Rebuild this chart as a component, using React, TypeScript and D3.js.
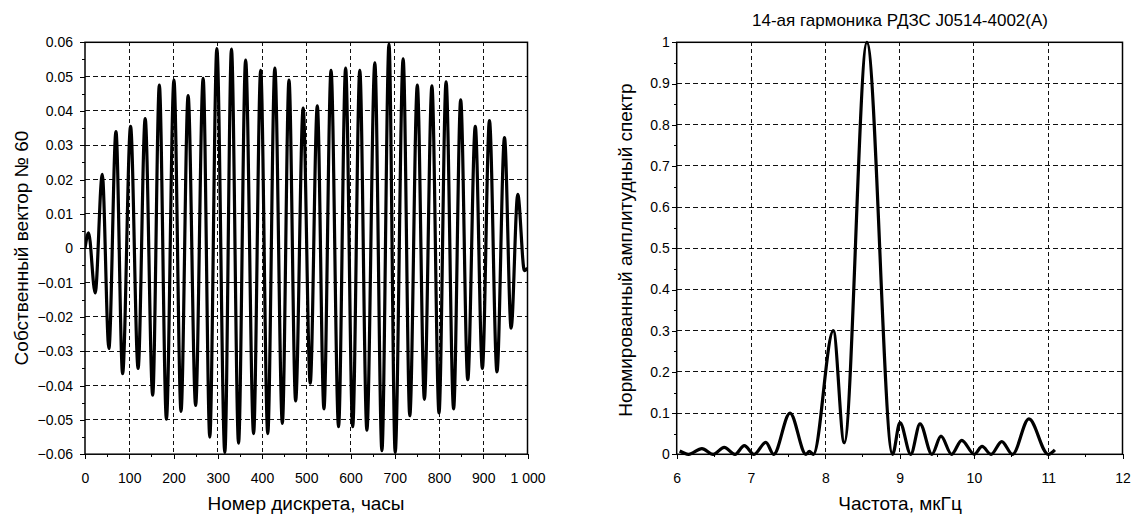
import React, { useRef, useEffect } from "react";
import * as d3 from "d3";

const width = 1134;
const height = 515;
const font = "'Liberation Sans', Arial, Helvetica, sans-serif";

// left panel: extrema of eigenvector No 60 (sample number, value)
const sampleNo = [
  0, 8, 23, 39, 54, 70, 85, 103, 120, 136, 153, 168, 184, 201, 217, 233, 250, 267, 282, 298,
  316, 331, 347, 363, 381, 397, 413, 429, 446, 461, 476, 493, 509, 525, 540, 556, 573, 589,
  605, 621, 637, 655, 671, 687, 701, 719, 734, 751, 767, 784, 800, 816, 833, 849, 865, 882,
  898, 914, 931, 948, 963, 978, 993, 1000,
];
const vectorValue = [
  0.0, 0.0045, -0.013, 0.0215, -0.0292, 0.034, -0.0365, 0.0355, -0.035, 0.0378, -0.0428,
  0.0475, -0.0498, 0.049, -0.0475, 0.0445, -0.0458, 0.0495, -0.055, 0.0582, -0.0595, 0.058,
  -0.0568, 0.0548, -0.054, 0.0518, -0.054, 0.0525, -0.051, 0.049, -0.0445, 0.0408, -0.0393,
  0.0415, -0.0468, 0.0518, -0.052, 0.0525, -0.052, 0.0518, -0.053, 0.054, -0.059, 0.0595,
  -0.0595, 0.0552, -0.0488, 0.0475, -0.044, 0.0473, -0.048, 0.0485, -0.0468, 0.0432, -0.0383,
  0.0355, -0.035, 0.0372, -0.036, 0.0322, -0.0233, 0.0157, -0.0065, -0.0058,
];

// right panel: normalised amplitude spectrum (frequency, µHz)
const frequency = [
  6.04, 6.16, 6.34, 6.49, 6.64, 6.785, 6.91, 7.04, 7.2, 7.305, 7.525, 7.74, 7.785, 7.84, 8.108,
  8.255, 8.56, 8.905, 9.005, 9.15, 9.275, 9.435, 9.557, 9.7, 9.836, 10.005, 10.11, 10.23,
  10.375, 10.52, 10.74, 11.0, 11.09,
];
const amplitude = [
  0.008, 0.0, 0.014, 0.0, 0.017, 0.0, 0.021, 0.0, 0.029, 0.0, 0.1, 0.0, 0.007, 0.0, 0.3, 0.028,
  1.0, 0.0, 0.077, 0.0, 0.074, 0.0, 0.044, 0.0, 0.034, 0.0, 0.019, 0.0, 0.031, 0.0, 0.086, 0.0,
  0.011,
];

// ticks
const leftXMajor = [0, 100, 200, 300, 400, 500, 600, 700, 800, 900, 1000];
const leftXMinor = [50, 150, 250, 350, 450, 550, 650, 750, 850, 950];
const leftYMajor = [-0.06, -0.05, -0.04, -0.03, -0.02, -0.01, 0, 0.01, 0.02, 0.03, 0.04, 0.05, 0.06];
const leftYMinor = [-0.055, -0.045, -0.035, -0.025, -0.015, -0.005, 0.005, 0.015, 0.025, 0.035, 0.045, 0.055];
const rightXMajor = [6, 7, 8, 9, 10, 11, 12];
const rightXMinor = [6.5, 7.5, 8.5, 9.5, 10.5, 11.5];
const rightYMajor = [0, 0.1, 0.2, 0.3, 0.4, 0.5, 0.6, 0.7, 0.8, 0.9, 1];
const rightYMinor = [0.05, 0.15, 0.25, 0.35, 0.45, 0.55, 0.65, 0.75, 0.85, 0.95];

type PanelProps = {
  id: string;
  left: number;
  right: number;
  top: number;
  bottom: number;
  xDomain: [number, number];
  yDomain: [number, number];
  xMajor: number[];
  xMinor: number[];
  yMajor: number[];
  yMinor: number[];
  xFmt: (d: number) => string;
  yFmt: (d: number) => string;
  yPad: number;
  xs: number[];
  ys: number[];
};

const Panel = (p: PanelProps) => {
  const ref = useRef<SVGGElement>(null);

  useEffect(() => {
    const g = d3.select(ref.current);
    g.selectAll("*").remove();

    const x = d3.scaleLinear().domain(p.xDomain).range([p.left, p.right]);
    const y = d3.scaleLinear().domain(p.yDomain).range([p.bottom, p.top]);

    // dashed grid
    const grid = g.append("g").attr("shape-rendering", "crispEdges");
    grid
      .selectAll(".gx")
      .data(p.xMajor.filter((d) => d > p.xDomain[0] && d < p.xDomain[1]))
      .join("line")
      .attr("x1", (d) => x(d))
      .attr("x2", (d) => x(d))
      .attr("y1", p.top)
      .attr("y2", p.bottom)
      .attr("stroke", "#111")
      .attr("stroke-dasharray", "4,3");
    grid
      .selectAll(".gy")
      .data(p.yMajor.filter((d) => d > p.yDomain[0] + 1e-9 && d < p.yDomain[1] - 1e-9))
      .join("line")
      .attr("x1", p.left)
      .attr("x2", p.right)
      .attr("y1", (d) => y(d))
      .attr("y2", (d) => y(d))
      .attr("stroke", "#111")
      .attr("stroke-dasharray", "5,3");

    // the curve
    g.append("clipPath")
      .attr("id", p.id)
      .append("rect")
      .attr("x", p.left)
      .attr("y", p.top - 2)
      .attr("width", p.right - p.left)
      .attr("height", p.bottom - p.top + 4);
    const line = d3
      .line<number>()
      .x((d, i) => x(p.xs[i]))
      .y((d) => y(d))
      .curve(d3.curveMonotoneX);
    g.append("path")
      .attr("clip-path", `url(#${p.id})`)
      .attr("d", line(p.ys))
      .attr("fill", "none")
      .attr("stroke", "#000")
      .attr("stroke-width", 3.2)
      .attr("stroke-linejoin", "round");

    // axes
    const style = (sel: any) => {
      sel.select(".domain").remove();
      sel.selectAll("line").attr("stroke", "#000").attr("shape-rendering", "crispEdges");
      sel.selectAll("text").attr("font-family", font).attr("font-size", 14).attr("fill", "#000");
    };
    g.append("g")
      .attr("transform", `translate(0,${p.bottom})`)
      .call(d3.axisBottom(x).tickValues(p.xMajor).tickSize(5).tickPadding(14).tickFormat((d: any) => p.xFmt(d)))
      .call(style);
    g.append("g")
      .attr("transform", `translate(0,${p.bottom})`)
      .call(d3.axisBottom(x).tickValues(p.xMinor).tickSize(3).tickFormat(() => ""))
      .call(style);
    g.append("g")
      .attr("transform", `translate(${p.left},0)`)
      .call(d3.axisLeft(y).tickValues(p.yMajor).tickSize(5).tickPadding(p.yPad).tickFormat((d: any) => p.yFmt(d)))
      .call(style);
    g.append("g")
      .attr("transform", `translate(${p.left},0)`)
      .call(d3.axisLeft(y).tickValues(p.yMinor).tickSize(3).tickFormat(() => ""))
      .call(style);

    // frame
    g.append("rect")
      .attr("x", p.left)
      .attr("y", p.top)
      .attr("width", p.right - p.left)
      .attr("height", p.bottom - p.top)
      .attr("fill", "none")
      .attr("stroke", "#000")
      .attr("stroke-width", 1.5);
  }, [p]);

  return <g ref={ref} />;
};

const leftFmtX = (d: number) => (d === 1000 ? "1 000" : String(d));
const leftFmtY = (d: number) => (Math.abs(d) < 1e-9 ? "0" : d3.format(".2f")(d));
const rightFmtX = (d: number) => String(d);
const rightFmtY = (d: number) => String(+d.toFixed(1));

export default function App() {
  return (
    <svg
      width={width}
      height={height}
      style={{ position: "absolute", left: 0, top: 0, background: "#fff" }}
    >
      <Panel
        id="clipL"
        left={85}
        right={527.5}
        top={42.3}
        bottom={454.2}
        xDomain={[0, 1000]}
        yDomain={[-0.06, 0.06]}
        xMajor={leftXMajor}
        xMinor={leftXMinor}
        yMajor={leftYMajor}
        yMinor={leftYMinor}
        xFmt={leftFmtX}
        yFmt={leftFmtY}
        yPad={7}
        xs={sampleNo}
        ys={vectorValue}
      />
      <Panel
        id="clipR"
        left={676.7}
        right={1122.5}
        top={42.3}
        bottom={454.3}
        xDomain={[6, 12]}
        yDomain={[0, 1]}
        xMajor={rightXMajor}
        xMinor={rightXMinor}
        yMajor={rightYMajor}
        yMinor={rightYMinor}
        xFmt={rightFmtX}
        yFmt={rightFmtY}
        yPad={2}
        xs={frequency}
        ys={amplitude}
      />
      <g fontFamily={font} fill="#000">
        <text x={306} y={510} fontSize={19} textAnchor="middle">
          Номер дискрета, часы
        </text>
        <text transform="translate(27.5,248) rotate(-90)" fontSize={19} textAnchor="middle">
          Собственный вектор № 60
        </text>
        <text x={900} y={510} fontSize={19} textAnchor="middle">
          Частота, мкГц
        </text>
        <text transform="translate(632,250) rotate(-90)" fontSize={19} textAnchor="middle">
          Нормированный амплитудный спектр
        </text>
        <text x={900} y={25.5} fontSize={17} textAnchor="middle">
          14-ая гармоника РДЗС J0514-4002(A)
        </text>
      </g>
    </svg>
  );
}
